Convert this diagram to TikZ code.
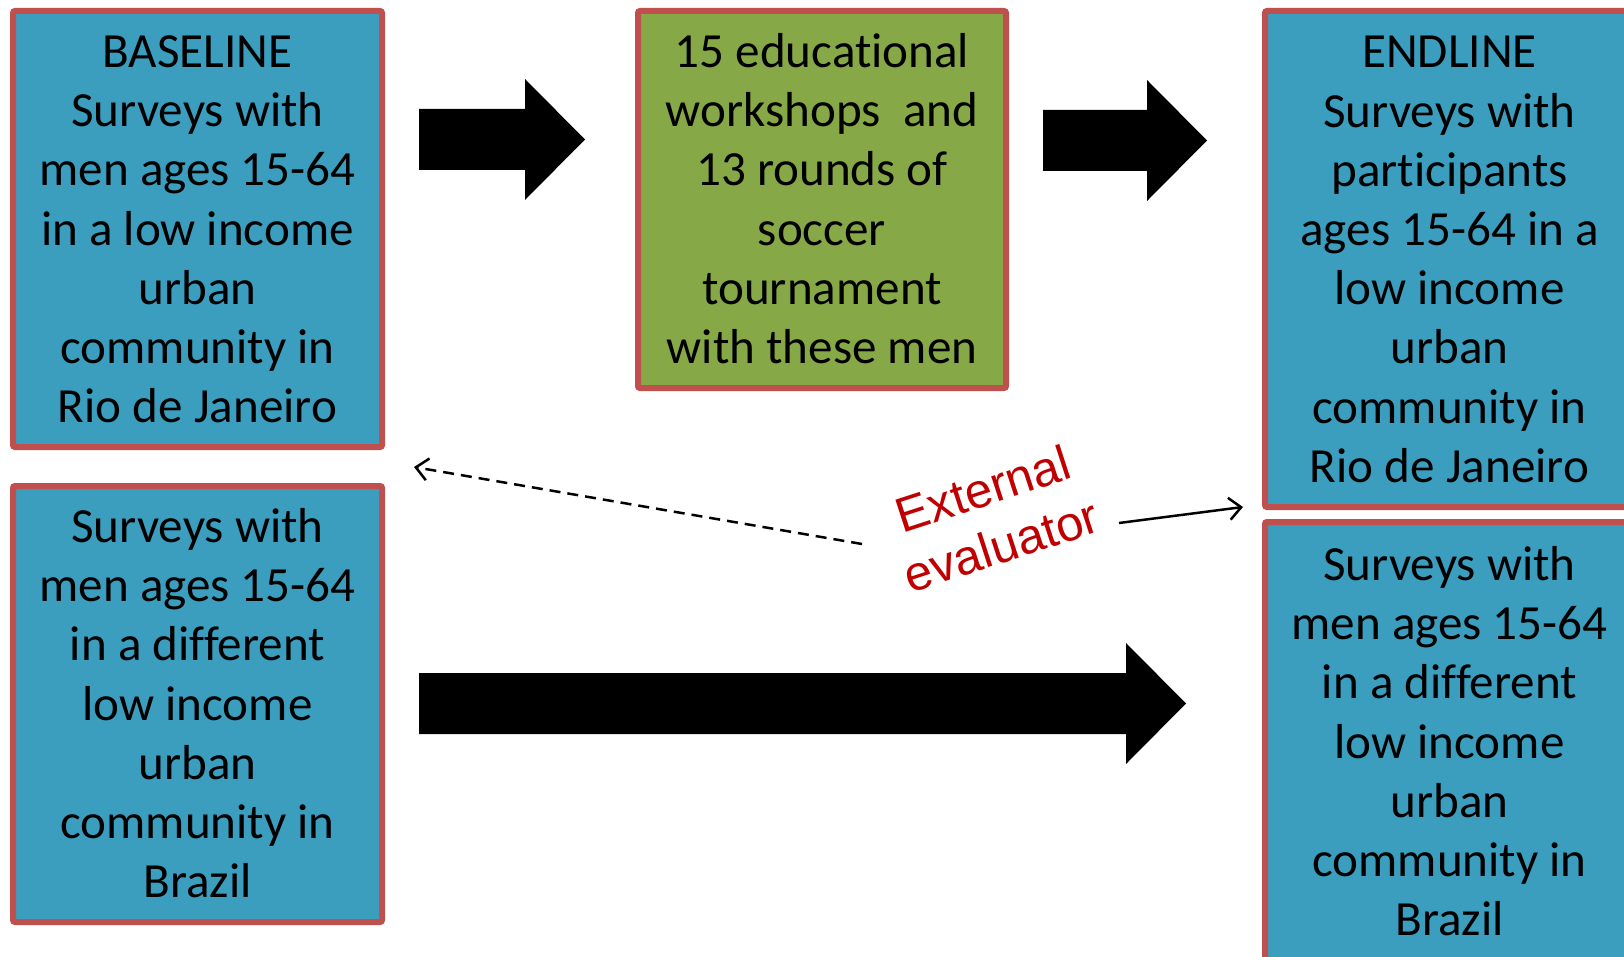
\documentclass[tikz,border=0pt]{standalone}
\usepackage{fontspec}
\setmainfont{Carlito}[Ligatures=NoCommon]
\newfontfamily\evalfont{Liberation Sans}
\usetikzlibrary{arrows.meta}
\definecolor{boxblue}{HTML}{3B9EBE}
\definecolor{boxgreen}{HTML}{86A846}
\definecolor{boxedge}{HTML}{C0504D}
\definecolor{evalred}{HTML}{C00000}
% struts that fix the height of the first and the depth of the last line
\newcommand{\firstln}{\rule{0pt}{44pt}}
\newcommand{\lastln}{\rule[-12pt]{0pt}{12pt}}

\begin{document}
\begin{tikzpicture}[x=1pt,y=-1pt,
  panel/.style={draw=boxedge, line width=6pt, rounded corners=2pt, inner sep=0pt,
    align=center, text=black, font=\fontsize{49.1}{59.2}\selectfont},
  survey/.style={panel, fill=boxblue},
  program/.style={panel, fill=boxgreen},
  blockarrow/.style={fill=black},
  pointer/.style={line width=2.5pt, -{Straight Barb[length=12pt,width=22pt]}},
  evaltext/.style={text=evalred, align=center, inner sep=0pt,
    font=\evalfont\fontsize{49}{59.5}\selectfont},
]
\useasboundingbox (0,0) rectangle (1624,957);
\clip (0,0) rectangle (1624,957);

% survey and programme boxes
\node[survey, minimum width=369pt, minimum height=436pt] (baseline) at (197.5,229)
  {\firstln BASELINE\\ Surveys with\\ men ages 15-64\\ in a low income\\ urban\\ community in\\ Rio de Janeiro\lastln};
\node[survey, minimum width=369pt, minimum height=436pt] (control) at (197.5,704)
  {\firstln Surveys with\\ men ages 15-64\\ in a different\\ low income\\ urban\\ community in\\ Brazil\lastln};
\node[program, minimum width=368pt, minimum height=377pt] (workshops) at (822,199.5)
  {\firstln 15 educational\\ workshops~ and\\ 13 rounds of\\ soccer\\ tournament\\ with these men\lastln};
\node[survey, minimum width=369pt, minimum height=496pt] (endline) at (1449.5,259)
  {\firstln ENDLINE\\ Surveys with\\ participants\\ ages 15-64 in a\\ low income\\ urban\\ community in\\ Rio de Janeiro\lastln};
\node[survey, minimum width=369pt, minimum height=440pt] (controlend) at (1449.5,742)
  {\firstln Surveys with\\ men ages 15-64\\ in a different\\ low income\\ urban\\ community in\\ Brazil\lastln};

% block arrows between the stages
\fill[blockarrow] (419,109) -- (525,109) -- (525,79) -- (585,139.5)
  -- (525,200) -- (525,170) -- (419,170) -- cycle;
\fill[blockarrow] (1043,110) -- (1147,110) -- (1147,80) -- (1207,140.5)
  -- (1147,201) -- (1147,171) -- (1043,171) -- cycle;
\fill[blockarrow] (419,673) -- (1126,673) -- (1126,643) -- (1186,703.5)
  -- (1126,764) -- (1126,734) -- (419,734) -- cycle;

% external evaluator and its pointers
\node[evaltext, rotate=18] (evaluator) at (992,517) {External\\ evaluator};
\coordinate (dashfrom) at (862,544);
\coordinate (dashto) at (414,467);
\coordinate (solidfrom) at (1119,523);
\coordinate (solidto) at (1243,507);
\draw[pointer, dash pattern=on 11pt off 7pt] (dashfrom) -- (dashto);
\draw[pointer] (solidfrom) -- (solidto);
\end{tikzpicture}
\end{document}
